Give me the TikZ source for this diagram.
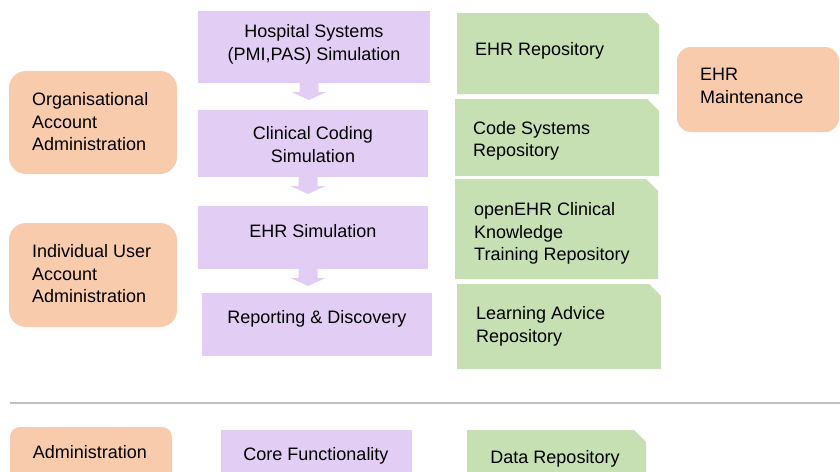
\documentclass[tikz,border=0pt]{standalone}
\usepackage{fontspec}
\setmainfont{Liberation Sans}

\definecolor{simfill}{RGB}{226,206,244}
\definecolor{repofill}{RGB}{198,224,180}
\definecolor{adminfill}{RGB}{248,203,173}
\definecolor{rulegrey}{RGB}{192,192,192}

\tikzset{
  box/.style={anchor=north west, inner sep=0pt, outer sep=0pt},
  simbox/.style={box, rectangle, fill=simfill},
  repobox/.style={box, rectangle},
  adminbox/.style={box, rectangle, rounded corners=#1, fill=adminfill},
  adminbox/.default=17pt,
  txt/.style={inner sep=0pt, font=\fontsize{18}{22.5}\selectfont},
  ctxt/.style={txt, align=center},
  ltxt/.style={txt, align=left, anchor=west}
}

\begin{document}
\begin{tikzpicture}[x=1pt,y=-1pt]
  \useasboundingbox (0,0) rectangle (840,471);
  \clip (0,0) rectangle (840,471);
  \fill[white] (0,0) rectangle (840,471);

  \node[simbox, minimum width=232pt, minimum height=72pt] (hosp) at (198,11) {};
  \node[simbox, minimum width=230pt, minimum height=67pt] (coding) at (198,110) {};
  \node[simbox, minimum width=230pt, minimum height=63pt] (ehrsim) at (198,206) {};
  \node[simbox, minimum width=230pt, minimum height=63pt] (report) at (202,293) {};
  \node[ctxt] (hosp-t) at (314,44.5) {Hospital Systems\\(PMI,PAS) Simulation};
  \node[ctxt] (coding-t) at (313,144.5) {Clinical Coding\\Simulation};
  \node[ctxt] (ehrsim-t) at (313,231.5) {EHR Simulation};
  \node[ctxt] (report-t) at (317,318.5) {Reporting \& Discovery};

  \foreach \a in {hosp, coding, ehrsim}
    \fill[simfill] ([xshift=-5pt]\a.south) ++(-9.5,0) -- ++(0,9) -- ++(-8,0)
      -- ++(17.5,8) -- ++(17.5,-8) -- ++(-8,0) -- ++(0,-9) -- cycle;

  \node[repobox, minimum width=202pt, minimum height=81pt] (ehrrepo) at (457,13) {};
  \node[repobox, minimum width=204pt, minimum height=77pt] (coderepo) at (455,99) {};
  \node[repobox, minimum width=203pt, minimum height=100pt] (ckmrepo) at (455,179) {};
  \node[repobox, minimum width=204pt, minimum height=85pt] (learnrepo) at (457,284) {};
  \node[repobox, minimum width=179pt, minimum height=60pt] (keyrepo) at (467,430) {};
  \foreach \r in {ehrrepo, coderepo, ckmrepo, learnrepo, keyrepo}
    \fill[repofill] (\r.north west) -- ([xshift=-12pt]\r.north east)
      -- ([yshift=-12pt]\r.north east) -- (\r.south east) -- (\r.south west) -- cycle;
  \node[ltxt] (ehrrepo-t) at (475,50.5) {EHR Repository};
  \node[ltxt] (coderepo-t) at (473,141) {Code Systems\\Repository};
  \node[ltxt] (ckmrepo-t) at (474,233.5) {openEHR Clinical\\Knowledge\\Training Repository};
  \node[ltxt] (learnrepo-t) at (476,326.5) {Learning Advice\\Repository};

  \node[adminbox, minimum width=168pt, minimum height=103pt] (orgadmin) at (9,71) {};
  \node[adminbox, minimum width=168pt, minimum height=104pt] (useradmin) at (9,223) {};
  \node[adminbox=14pt, minimum width=162pt, minimum height=85pt] (ehrmaint) at (677,47) {};
  \node[ltxt] (orgadmin-t) at (32,122) {Organisational\\Account\\Administration};
  \node[ltxt] (useradmin-t) at (32,274) {Individual User\\Account\\Administration};
  \node[ltxt] (ehrmaint-t) at (700,86) {EHR\\Maintenance};

  \draw[rulegrey, line width=1.2pt] (10,403) -- (840,403);

  \node[adminbox=10pt, minimum width=162pt, minimum height=60pt] (keyadmin) at (10,427) {};
  \node[simbox, minimum width=191pt, minimum height=60pt] (keysim) at (221,430) {};
  \node[ctxt] (keyadmin-t) at (90,452.5) {Administration};
  \node[ctxt] (keysim-t) at (316,455.5) {Core Functionality};
  \node[ctxt] (keyrepo-t) at (555,458.5) {Data Repository};
\end{tikzpicture}
\end{document}
